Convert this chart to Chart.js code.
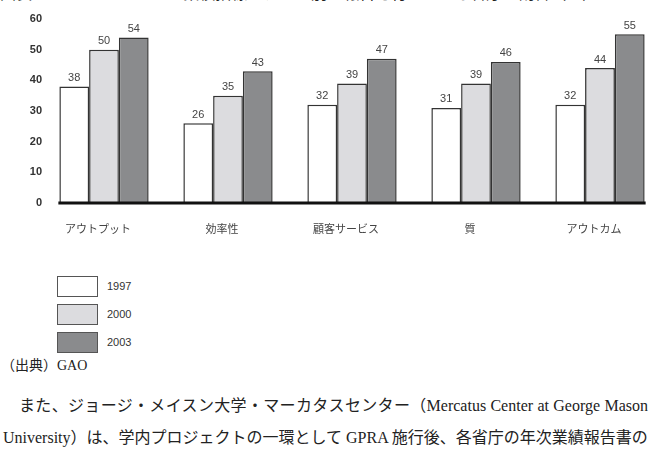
<!DOCTYPE html>
<html lang="ja">
<head>
<meta charset="utf-8">
<script src="https://cdn.jsdelivr.net/npm/chart.js@4"></script>
<style>
  html, body { margin: 0; padding: 0; background: #fff; width: 650px; height: 457px; overflow: hidden; position: relative; }
  #gpraChart { position: absolute; left: 0; top: 0; }
  .caption { position: absolute; left: 0; top: -16px; font: 16px/20px "Liberation Serif", "Noto Sans CJK JP", serif; color: #222; white-space: nowrap; }
  #legend { position: absolute; left: 57px; top: 272px; }
  .legend-item { display: flex; align-items: center; height: 28px; }
  .legend-box { width: 41px; height: 21px; box-sizing: border-box; border: 1.5px solid #555; }
  .legend-label { margin-left: 9px; font: 11px "Liberation Sans", Arial, sans-serif; color: #333; }
  .source { position: absolute; left: 1px; top: 356px; font: 14px/20px "Liberation Serif", "Noto Sans CJK JP", serif; color: #222; white-space: nowrap; }
  .para { position: absolute; font: 16px/20px "Liberation Serif", "Noto Sans CJK JP", serif; color: #222; white-space: nowrap; text-align: justify; text-align-last: justify; }
  .line1 { left: 3px; width: 645px; top: 396px; text-indent: 16px; }
  .line2 { left: 3px; width: 642px; top: 428px; }
</style>
</head>
<body>
<div class="caption">図表 3-4　GPRA に基づく業績指標のタイプ別の報告を行っている省庁の割合（％）</div>
<canvas id="gpraChart" width="662" height="243"></canvas>
<div id="legend"></div>
<div class="source">（出典）GAO</div>
<div class="para line1">また、ジョージ・メイスン大学・マーカタスセンター（Mercatus Center at George Mason</div>
<div class="para line2">University）は、学内プロジェクトの一環として GPRA 施行後、各省庁の年次業績報告書の</div>
<script>
// 業績指標のタイプ別（％）
const categories = ['アウトプット', '効率性', '顧客サービス', '質', 'アウトカム'];
const years = ['1997', '2000', '2003'];
const values1997 = [38, 26, 32, 31, 32];
const values2000 = [50, 35, 39, 39, 44];
const values2003 = [54, 43, 47, 46, 55];
const yTicks = [0, 10, 20, 30, 40, 50, 60];

const barColors = ['#ffffff', '#dcdcdf', '#8a8b8d'];
const seriesValues = [values1997, values2000, values2003];

// value labels above the bars + thick baseline
const valueLabels = {
    id: 'valueLabels',
    afterDatasetsDraw(chart) {
        const ctx = chart.ctx;
        ctx.save();
        ctx.font = '11px "Liberation Sans", Arial, sans-serif';
        ctx.fillStyle = '#444';
        ctx.textAlign = 'center';
        ctx.textBaseline = 'bottom';
        chart.data.datasets.forEach((ds, i) => {
            chart.getDatasetMeta(i).data.forEach((bar, j) => {
                ctx.fillText(ds.data[j], bar.x, bar.y - 3);
            });
        });
        const first = chart.getDatasetMeta(0).data[0];
        const lastBars = chart.getDatasetMeta(chart.data.datasets.length - 1).data;
        const last = lastBars[lastBars.length - 1];
        const y0 = chart.scales.y.getPixelForValue(0);
        ctx.strokeStyle = '#111';
        ctx.lineWidth = 3;
        ctx.beginPath();
        ctx.moveTo(first.x - first.width / 2 - 1, y0);
        ctx.lineTo(last.x + last.width / 2 + 1, y0);
        ctx.stroke();
        ctx.restore();
    }
};

const ctx = document.getElementById('gpraChart').getContext('2d');
const gpraChart = new Chart(ctx, {
    type: 'bar',
    data: {
        labels: categories,
        datasets: years.map((year, i) => ({
            label: year,
            data: seriesValues[i],
            backgroundColor: barColors[i],
            borderColor: '#333',
            borderWidth: 1.5,
            categoryPercentage: 0.72,
            barPercentage: 1.0
        }))
    },
    options: {
        responsive: false,
        animation: false,
        layout: { padding: { top: 19, left: 0, right: 0, bottom: 0 } },
        plugins: {
            legend: { display: false },
            tooltip: { enabled: false }
        },
        scales: {
            y: {
                min: 0,
                max: 60,
                afterBuildTicks: scale => { scale.ticks = yTicks.map(v => ({ value: v })); },
                afterFit: scale => { scale.width = 42; },
                grid: { display: false, drawTicks: false },
                border: { display: false },
                ticks: {
                    padding: 0,
                    color: '#333',
                    font: { family: '"Liberation Sans", Arial, sans-serif', size: 11, weight: 'bold' }
                }
            },
            x: {
                afterFit: scale => { scale.height = 40; },
                grid: { display: false, drawTicks: false },
                border: { display: false },
                ticks: {
                    padding: 19,
                    labelOffset: -6,
                    maxRotation: 0,
                    color: '#444',
                    font: { family: '"Noto Sans CJK JP", sans-serif', size: 11 }
                }
            }
        }
    },
    plugins: [valueLabels]
});

// legend built from the series names
const legendEl = document.getElementById('legend');
years.forEach((year, i) => {
    const item = document.createElement('div');
    item.className = 'legend-item';
    const box = document.createElement('div');
    box.className = 'legend-box';
    box.style.background = barColors[i];
    const label = document.createElement('span');
    label.className = 'legend-label';
    label.textContent = year;
    item.appendChild(box);
    item.appendChild(label);
    legendEl.appendChild(item);
});
</script>
</body>
</html>
